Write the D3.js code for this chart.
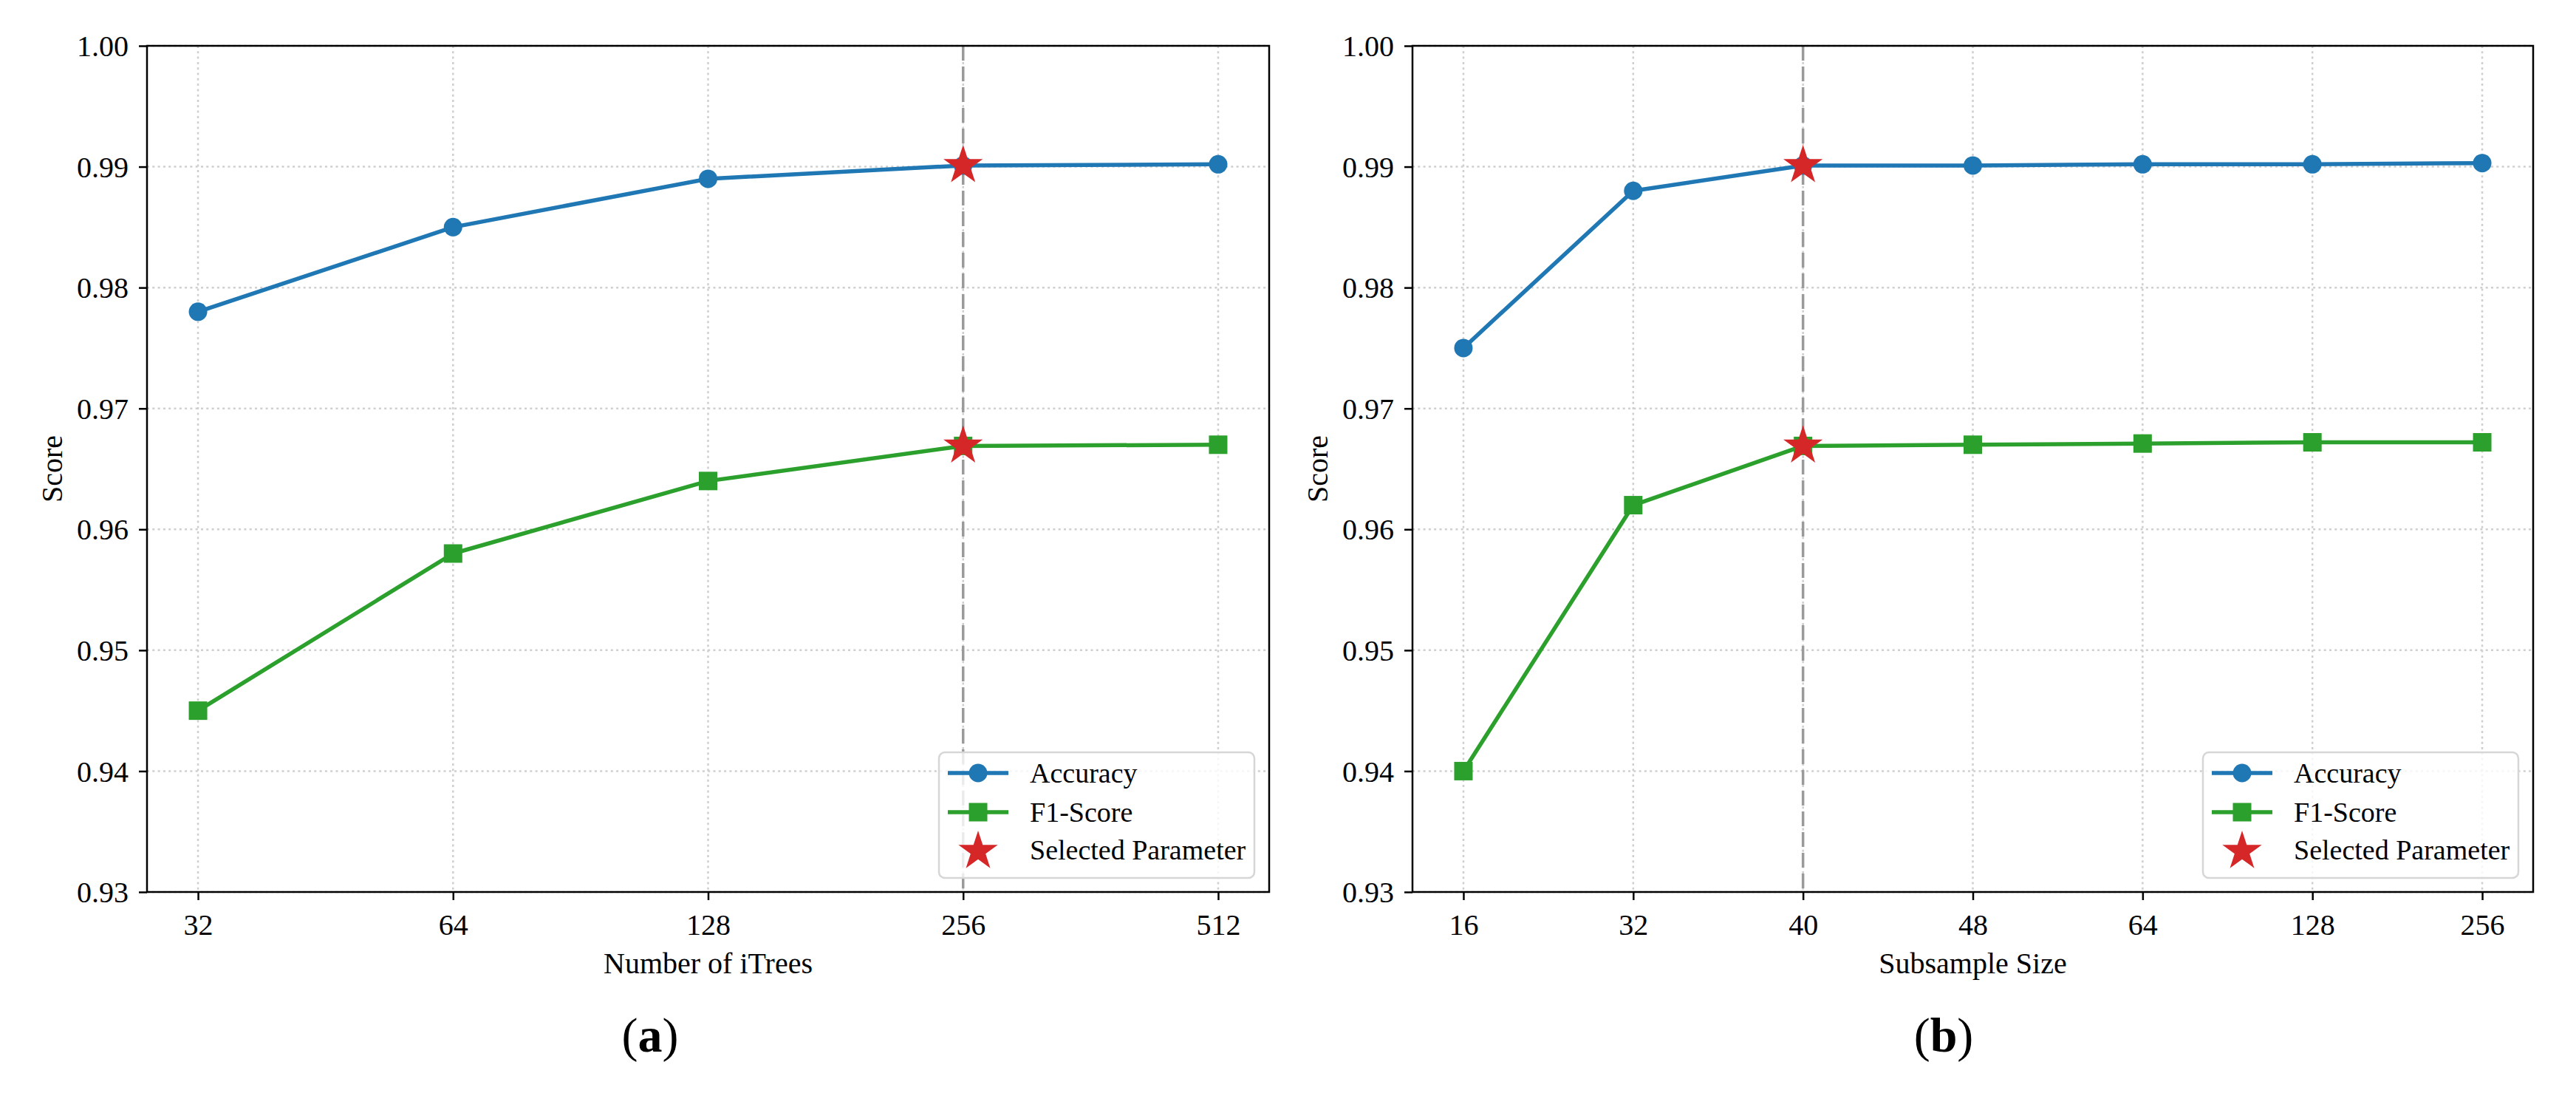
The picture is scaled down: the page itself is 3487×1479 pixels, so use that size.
<!DOCTYPE html>
<html>
<head>
<meta charset="utf-8">
<script src="https://cdn.jsdelivr.net/npm/d3@7"></script>
<style>
  html, body { margin: 0; padding: 0; background: #fff; }
  svg { display: block; }
  text { font-family: "Liberation Serif", "Times New Roman", serif; fill: #000; }
</style>
</head>
<body>
<svg id="chart" width="3487" height="1479"></svg>
<script>
// ---------- data ----------
const treesCats = ["32", "64", "128", "256", "512"];
const treesAcc  = [0.978, 0.985, 0.989, 0.9901, 0.9902];
const treesF1   = [0.945, 0.958, 0.964, 0.9669, 0.9670];
const treesSelected = 3;

const subCats = ["16", "32", "40", "48", "64", "128", "256"];
const subAcc  = [0.975, 0.988, 0.9901, 0.9901, 0.9902, 0.9902, 0.9903];
const subF1   = [0.940, 0.962, 0.9669, 0.9670, 0.9671, 0.9672, 0.9672];
const subSelected = 2;

const yTicks = [0.93, 0.94, 0.95, 0.96, 0.97, 0.98, 0.99, 1.00];
const yDomain = [0.93, 1.00];

const seriesNames = ["Accuracy", "F1-Score", "Selected Parameter"];
const xLabels = ["Number of iTrees", "Subsample Size"];
const yLabel = "Score";
const panelTags = ["a", "b"];

// ---------- style ----------
const C_BLUE = "#1f77b4", C_GREEN = "#2ca02c", C_RED = "#d62728";
const svg = d3.select("#chart");

function starPath(R) {
  const r = R * 0.381966;
  const pts = [];
  for (let k = 0; k < 10; k++) {
    const rad = k % 2 === 0 ? R : r;
    const a = -Math.PI / 2 + k * Math.PI / 5;
    pts.push([rad * Math.cos(a), rad * Math.sin(a)]);
  }
  return "M" + pts.map(p => p[0].toFixed(2) + "," + p[1].toFixed(2)).join("L") + "Z";
}
const STAR = starPath(28);

function panel(cfg) {
  const { x0, x1, y0, y1, cats, acc, f1, sel, xLabel, tag, tagX } = cfg;
  const n = cats.length;
  const pad = 0.05 * (n - 1);
  const x = d3.scaleLinear().domain([-pad, n - 1 + pad]).range([x0, x1]);
  const y = d3.scaleLinear().domain(yDomain).range([y1, y0]);
  const idx = d3.range(n);
  const g = svg.append("g");

  // grid
  const grid = g.append("g").attr("stroke", "#cfcfcf").attr("stroke-width", 2.5)
    .attr("stroke-dasharray", "3,4.3");
  grid.selectAll("line.gy").data(yTicks).join("line")
    .attr("x1", x0).attr("x2", x1).attr("y1", d => y(d)).attr("y2", d => y(d));
  grid.selectAll("line.gx").data(idx).join("line")
    .attr("x1", d => x(d)).attr("x2", d => x(d)).attr("y1", y0).attr("y2", y1);

  // selected vertical dashed line
  g.append("line")
    .attr("x1", x(sel)).attr("x2", x(sel)).attr("y1", y0).attr("y2", y1)
    .attr("stroke", "#9a9a9a").attr("stroke-width", 3.5)
    .attr("stroke-dasharray", "20,8");

  const line = d3.line().x((d, i) => x(i)).y(d => y(d));

  // accuracy
  g.append("path").datum(acc).attr("d", line)
    .attr("fill", "none").attr("stroke", C_BLUE).attr("stroke-width", 5.5)
    .attr("stroke-linejoin", "round");
  g.selectAll("circle.acc").data(acc).join("circle")
    .attr("cx", (d, i) => x(i)).attr("cy", d => y(d)).attr("r", 12.5)
    .attr("fill", C_BLUE);

  // f1
  g.append("path").datum(f1).attr("d", line)
    .attr("fill", "none").attr("stroke", C_GREEN).attr("stroke-width", 5.5)
    .attr("stroke-linejoin", "round");
  g.selectAll("rect.f1").data(f1).join("rect")
    .attr("x", (d, i) => x(i) - 12.5).attr("y", d => y(d) - 12.5)
    .attr("width", 25).attr("height", 25).attr("fill", C_GREEN);

  // stars
  g.selectAll("path.star").data([acc[sel], f1[sel]]).join("path")
    .attr("d", STAR)
    .attr("transform", d => `translate(${x(sel)},${y(d)})`)
    .attr("fill", C_RED);

  // axes
  const xAxis = d3.axisBottom(x).tickValues(idx).tickFormat(i => cats[i])
    .tickSizeInner(11).tickSizeOuter(0).tickPadding(14);
  const gx = g.append("g").attr("transform", `translate(0,${y1})`).call(xAxis);
  gx.select(".domain").remove();
  gx.selectAll(".tick line").attr("stroke", "#000").attr("stroke-width", 2.5);
  gx.selectAll(".tick text").attr("font-size", 40)
    .attr("font-family", '"Liberation Serif", serif').attr("fill", "#000")
    .attr("dy", null).attr("y", null)
    .attr("transform", `translate(0,${1265 - y1})`)
    .attr("dominant-baseline", "alphabetic");

  const yAxis = d3.axisLeft(y).tickValues(yTicks).tickFormat(d3.format(".2f"))
    .tickSizeInner(11).tickSizeOuter(0).tickPadding(14);
  const gy = g.append("g").attr("transform", `translate(${x0},0)`).call(yAxis);
  gy.select(".domain").remove();
  gy.selectAll(".tick line").attr("stroke", "#000").attr("stroke-width", 2.5);
  gy.selectAll(".tick text").attr("font-size", 40)
    .attr("font-family", '"Liberation Serif", serif').attr("fill", "#000")
    .attr("dy", "0.34em");

  // frame
  g.append("rect").attr("x", x0).attr("y", y0).attr("width", x1 - x0).attr("height", y1 - y0)
    .attr("fill", "none").attr("stroke", "#000").attr("stroke-width", 2.5);

  // labels
  g.append("text").attr("x", (x0 + x1) / 2).attr("y", 1317)
    .attr("text-anchor", "middle").attr("font-size", 40).text(xLabel);
  g.append("text").attr("transform", `translate(${x0 - 115},${(y0 + y1) / 2}) rotate(-90)`)
    .attr("text-anchor", "middle").attr("font-size", 40).text(yLabel);

  // panel tag
  const t = g.append("text").attr("x", tagX).attr("y", 1423)
    .attr("text-anchor", "middle").attr("font-size", 66);
  t.append("tspan").text("(");
  t.append("tspan").attr("font-weight", "bold").text(tag);
  t.append("tspan").text(")");

  // legend
  const lw = 427, lh = 170;
  const lx = x1 - 20 - lw, ly = y1 - 19 - lh;
  const lg = g.append("g").attr("transform", `translate(${lx},${ly})`);
  lg.append("rect").attr("width", lw).attr("height", lh).attr("rx", 8).attr("ry", 8)
    .attr("fill", "#fff").attr("fill-opacity", 0.8)
    .attr("stroke", "#d6d6d6").attr("stroke-width", 2.5);
  const rows = [28, 81, 132];
  // accuracy
  lg.append("line").attr("x1", 12).attr("x2", 94).attr("y1", rows[0]).attr("y2", rows[0])
    .attr("stroke", C_BLUE).attr("stroke-width", 5.5);
  lg.append("circle").attr("cx", 53).attr("cy", rows[0]).attr("r", 12.5).attr("fill", C_BLUE);
  // f1
  lg.append("line").attr("x1", 12).attr("x2", 94).attr("y1", rows[1]).attr("y2", rows[1])
    .attr("stroke", C_GREEN).attr("stroke-width", 5.5);
  lg.append("rect").attr("x", 53 - 12.5).attr("y", rows[1] - 12.5).attr("width", 25).attr("height", 25)
    .attr("fill", C_GREEN);
  // star
  lg.append("path").attr("d", STAR).attr("transform", `translate(53,${rows[2] + 2})`).attr("fill", C_RED);
  lg.selectAll("text.lt").data(seriesNames).join("text")
    .attr("x", 123).attr("y", (d, i) => rows[i]).attr("dy", "0.34em")
    .attr("font-size", 38).text(d => d);
}

panel({ x0: 199, x1: 1718, y0: 62, y1: 1207, cats: treesCats, acc: treesAcc, f1: treesF1,
        sel: treesSelected, xLabel: xLabels[0], tag: panelTags[0], tagX: 880 });
panel({ x0: 1912, x1: 3429, y0: 62, y1: 1207, cats: subCats, acc: subAcc, f1: subF1,
        sel: subSelected, xLabel: xLabels[1], tag: panelTags[1], tagX: 2631 });
</script>
</body>
</html>
